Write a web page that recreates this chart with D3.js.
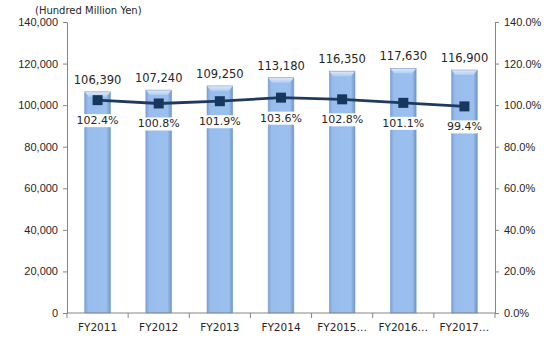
<!DOCTYPE html>
<html>
<head>
<meta charset="utf-8">
<script src="https://cdn.jsdelivr.net/npm/d3@7"></script>
<style>
  html, body { margin: 0; padding: 0; background: #fff; }
  svg { display: block; font-family: "DejaVu Sans", sans-serif; }
</style>
</head>
<body>
<svg id="chart" width="555" height="350"></svg>
<script>
// Fiscal-year sales (hundred million yen) and year-over-year ratio
const categories = ["FY2011", "FY2012", "FY2013", "FY2014", "FY2015…", "FY2016…", "FY2017…"];
const sales = [106390, 107240, 109250, 113180, 116350, 117630, 116900];
const ratio = [102.4, 100.8, 101.9, 103.6, 102.8, 101.1, 99.4];
const leftTicks = [0, 20000, 40000, 60000, 80000, 100000, 120000, 140000];
const rightTicks = [0, 20, 40, 60, 80, 100, 120, 140];
const unitLabel = "(Hundred Million Yen)";

const svg = d3.select("#chart");
const margin = { left: 67, right: 60, top: 22, bottom: 37 };
const W = 555, H = 350;
const x0 = margin.left, x1 = W - margin.right, y0 = H - margin.bottom, y1 = margin.top;

const x = d3.scaleBand().domain(categories).range([x0, x1]).paddingInner(0.58).paddingOuter(0.29);
const xb = d3.scaleBand().domain(categories).range([x0, x1]);
const yL = d3.scaleLinear().domain([0, 140000]).range([y0, y1]);
const yR = d3.scaleLinear().domain([0, 140]).range([y0, y1]);

const axisColor = "#868686";
const textColor = "#262626";
const fmt = d3.format(",");

// Gradients for the bevelled bars
const defs = svg.append("defs");
const bodyGrad = defs.append("linearGradient").attr("id", "barBody").attr("x1", 0).attr("x2", 1).attr("y1", 0).attr("y2", 0);
bodyGrad.append("stop").attr("offset", "0%").attr("stop-color", "#7ba1d5");
bodyGrad.append("stop").attr("offset", "13%").attr("stop-color", "#98bcec");
bodyGrad.append("stop").attr("offset", "84%").attr("stop-color", "#9cc0ee");
bodyGrad.append("stop").attr("offset", "100%").attr("stop-color", "#6e94ca");
const topGrad = defs.append("linearGradient").attr("id", "barTop").attr("x1", 0).attr("x2", 0).attr("y1", 0).attr("y2", 1);
topGrad.append("stop").attr("offset", "0%").attr("stop-color", "#dfeafa");
topGrad.append("stop").attr("offset", "100%").attr("stop-color", "#b0cdf2");

// Bars
const bars = svg.append("g");
categories.forEach((c, i) => {
  const bx = x(c), bw = x.bandwidth(), by = yL(sales[i]);
  bars.append("rect").attr("x", bx).attr("y", by).attr("width", bw).attr("height", y0 - by)
    .attr("fill", "url(#barBody)");
  const b = 4;
  bars.append("path")
    .attr("d", `M${bx},${by} L${bx + bw},${by} L${bx + bw - b},${by + b + 1} L${bx + b},${by + b + 1} Z`)
    .attr("fill", "url(#barTop)");
  bars.append("rect").attr("x", bx).attr("y", by).attr("width", bw).attr("height", y0 - by)
    .attr("fill", "none").attr("stroke", "#7b9fcf").attr("stroke-width", 0.6);
});

// Left axis
const gL = svg.append("g").attr("transform", `translate(${x0},0)`)
  .call(d3.axisLeft(yL).tickValues(leftTicks).tickFormat(fmt).tickSize(4).tickPadding(5));
// Right axis
const gR = svg.append("g").attr("transform", `translate(${x1},0)`)
  .call(d3.axisRight(yR).tickValues(rightTicks).tickFormat(d => d.toFixed(1) + "%").tickSize(4).tickPadding(5));
// Bottom axis with ticks at category boundaries
const gB = svg.append("g").attr("transform", `translate(0,${y0})`);
gB.append("line").attr("x1", x0).attr("x2", x1).attr("y1", 0).attr("y2", 0).attr("stroke", axisColor);
categories.concat(["_end"]).forEach((c, i) => {
  const tx = i < categories.length ? xb(c) : x1;
  gB.append("line").attr("x1", tx).attr("x2", tx).attr("y1", 0).attr("y2", 5).attr("stroke", axisColor);
});
gB.selectAll("text.cat").data(categories).join("text").attr("class", "cat")
  .attr("x", d => xb(d) + xb.bandwidth() / 2).attr("y", 18)
  .attr("text-anchor", "middle").attr("font-size", 10.5).attr("fill", textColor).text(d => d);

[gL, gR].forEach(g => {
  g.select(".domain").attr("stroke", axisColor);
  g.selectAll(".tick line").attr("stroke", axisColor);
  g.selectAll(".tick text").attr("font-size", 11).attr("fill", textColor).attr("font-family", null);
});

// Unit label
svg.append("text").attr("x", 35).attr("y", 14).attr("font-size", 10).attr("fill", textColor).text(unitLabel);

// Ratio line and markers
const cx = c => x(c) + x.bandwidth() / 2;
const line = d3.line().x((d, i) => cx(categories[i])).y(d => yR(d));
svg.append("path").datum(ratio).attr("d", line).attr("fill", "none")
  .attr("stroke", "#1f3a60").attr("stroke-width", 2.8);
svg.selectAll("rect.mk").data(ratio).join("rect").attr("class", "mk")
  .attr("x", (d, i) => cx(categories[i]) - 5).attr("y", d => yR(d) - 5)
  .attr("width", 10).attr("height", 10).attr("fill", "#17375e");

// Value labels above bars
svg.selectAll("text.val").data(sales).join("text").attr("class", "val")
  .attr("x", (d, i) => cx(categories[i])).attr("y", d => yL(d) - 8)
  .attr("text-anchor", "middle").attr("font-size", 11.5).attr("fill", textColor).text(d => fmt(d));

// Ratio labels on white boxes below markers
const pl = svg.append("g");
ratio.forEach((d, i) => {
  const px = cx(categories[i]), py = yR(d) + 20;
  const t = pl.append("text").attr("x", px).attr("y", py + 4)
    .attr("text-anchor", "middle").attr("font-size", 11).attr("fill", textColor).text(d.toFixed(1) + "%");
  const bb = t.node().getBBox();
  pl.insert("rect", "text").attr("x", bb.x - 2).attr("y", bb.y).attr("width", bb.width + 4).attr("height", bb.height)
    .attr("fill", "#fff");
});
</script>
</body>
</html>
